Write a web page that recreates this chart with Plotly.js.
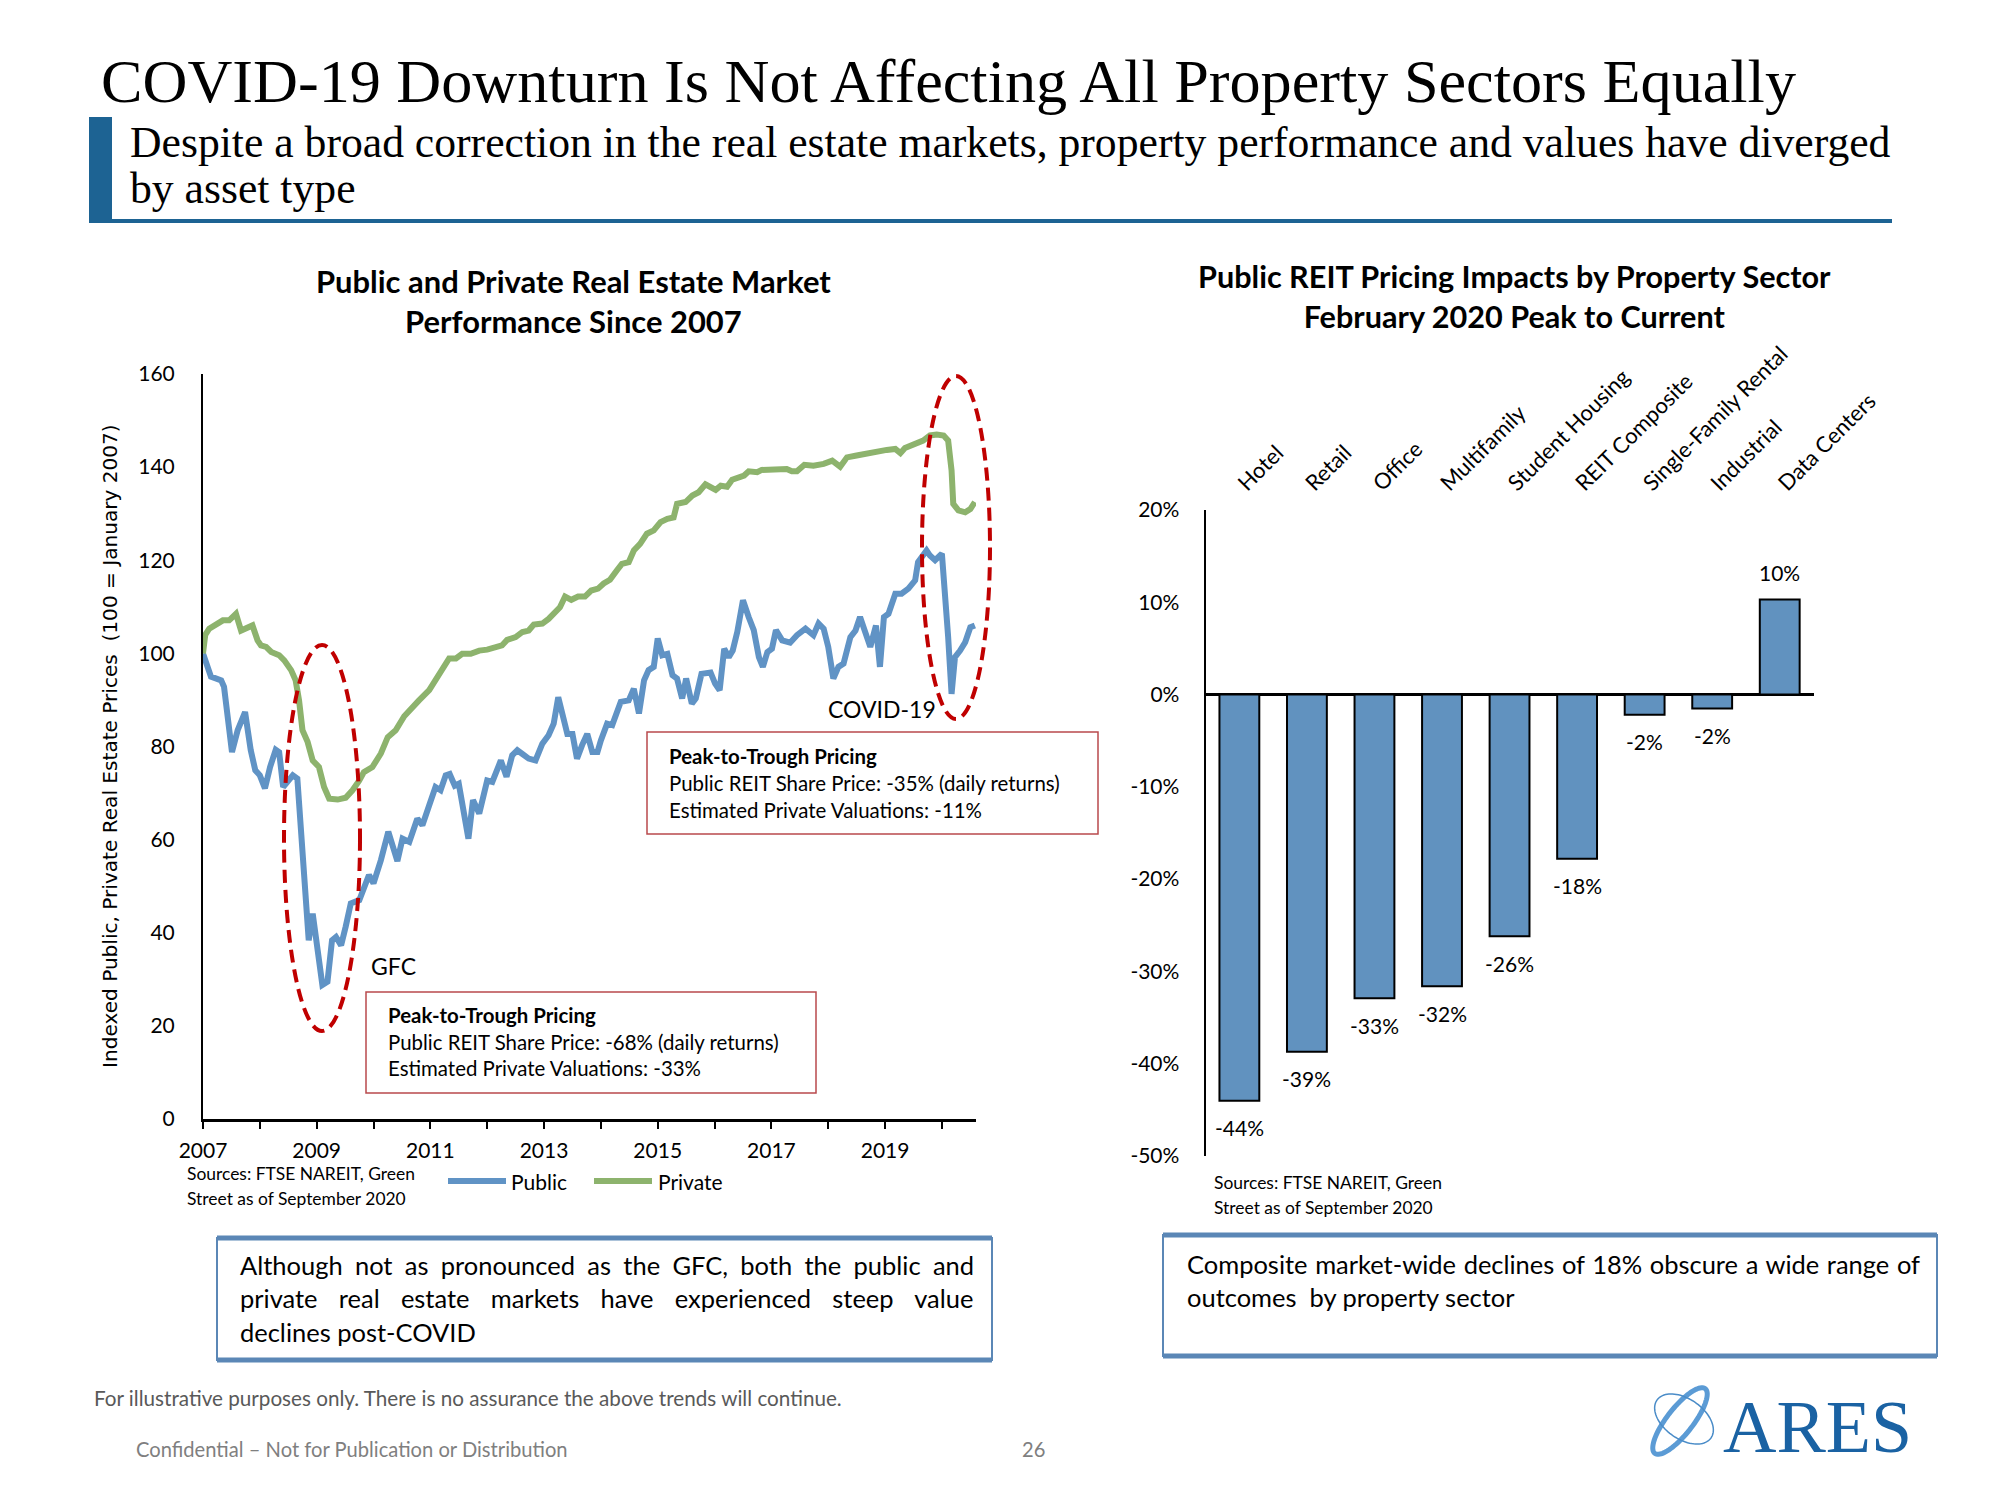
<!DOCTYPE html>
<html><head><meta charset="utf-8">
<script src="https://cdn.plot.ly/plotly-3.0.1.min.js"></script>
<style>html,body{margin:0;padding:0;background:#fff}#chart{width:2000px;height:1500px}</style>
</head><body><div id="chart"></div>
<script>
// ---------------- DATA ----------------
const pubX = [2007.0,2007.08,2007.14,2007.32,2007.37,2007.51,2007.61,2007.74,2007.84,2007.92,2008.0,2008.09,2008.18,2008.28,2008.34,2008.41,2008.49,2008.58,2008.66,2008.74,2008.81,2008.86,2008.93,2009.0,2009.1,2009.19,2009.27,2009.34,2009.43,2009.51,2009.6,2009.75,2009.92,2010.0,2010.13,2010.26,2010.42,2010.51,2010.63,2010.77,2010.86,2010.98,2011.09,2011.18,2011.27,2011.34,2011.43,2011.5,2011.59,2011.67,2011.75,2011.86,2012.0,2012.09,2012.24,2012.34,2012.44,2012.53,2012.62,2012.73,2012.85,2012.97,2013.08,2013.17,2013.25,2013.35,2013.41,2013.5,2013.58,2013.67,2013.76,2013.85,2013.94,2014.0,2014.11,2014.2,2014.35,2014.49,2014.58,2014.67,2014.76,2014.84,2014.93,2015.0,2015.08,2015.17,2015.26,2015.34,2015.43,2015.5,2015.6,2015.67,2015.77,2015.93,2016.01,2016.09,2016.17,2016.25,2016.32,2016.4,2016.5,2016.6,2016.69,2016.78,2016.85,2016.93,2017.01,2017.08,2017.19,2017.33,2017.45,2017.6,2017.74,2017.83,2017.92,2018.0,2018.09,2018.18,2018.27,2018.39,2018.48,2018.56,2018.65,2018.74,2018.84,2018.91,2018.98,2019.06,2019.18,2019.29,2019.41,2019.53,2019.58,2019.67,2019.73,2019.79,2019.88,2020.0,2020.05,2020.11,2020.17,2020.23,2020.32,2020.41,2020.5,2020.58];
const pubY = [100,97,95,94.2,92.8,78.8,83.5,87.4,79.2,74.9,73.8,71.0,75.6,79.3,78.8,71.3,72.4,73.8,73.1,59.9,47.0,38.4,44.1,38.4,28.8,29.5,38.4,39.1,37.3,41.3,46.3,47.0,52.4,50.6,55.6,61.7,55.4,60.2,59.5,64.5,63.1,67.4,71.3,70.6,73.8,74.1,71.6,72.0,65.6,60.2,68.5,65.6,72.7,72.4,77.0,73.5,78.1,79.2,78.4,77.4,77.0,80.6,82.4,84.9,90.6,84.9,82.7,82.7,77.4,80.3,82.7,78.8,78.8,81.3,84.9,84.6,89.6,89.9,92.4,87.1,94.2,96.4,97.1,103.2,99.6,99.9,95.3,94.6,90.3,94.6,89.2,90.3,95.6,95.9,93.5,92.1,101.0,99.2,100.6,104.6,111.4,107.8,105.0,99.2,97.1,100.3,101.0,105.0,102.8,102.3,103.9,105.3,103.9,106.4,105.3,101.4,94.6,97.1,97.8,103.5,104.9,107.8,104.6,101.4,106.0,97.1,107.8,108.5,112.8,112.8,113.9,115.7,119.6,121.4,122.1,121.0,120.0,121.4,114.2,103.5,91.3,99.2,100.6,102.4,105.6,106.0];
const privX = [2007.0,2007.04,2007.11,2007.23,2007.35,2007.46,2007.58,2007.67,2007.76,2007.87,2007.96,2008.02,2008.11,2008.2,2008.34,2008.43,2008.55,2008.63,2008.69,2008.75,2008.84,2008.93,2009.04,2009.13,2009.22,2009.37,2009.51,2009.63,2009.75,2009.83,2009.98,2010.13,2010.25,2010.39,2010.54,2010.63,2010.8,2010.98,2011.12,2011.24,2011.33,2011.45,2011.56,2011.71,2011.86,2012.0,2012.15,2012.26,2012.35,2012.5,2012.62,2012.73,2012.82,2012.97,2013.08,2013.2,2013.28,2013.37,2013.48,2013.6,2013.72,2013.83,2013.95,2014.05,2014.16,2014.28,2014.37,2014.49,2014.58,2014.69,2014.81,2014.93,2015.05,2015.17,2015.28,2015.34,2015.49,2015.61,2015.72,2015.84,2015.93,2016.02,2016.11,2016.22,2016.31,2016.43,2016.52,2016.6,2016.75,2016.83,2017.01,2017.18,2017.27,2017.36,2017.45,2017.58,2017.74,2017.92,2018.07,2018.21,2018.33,2018.5,2018.68,2018.85,2019.03,2019.18,2019.27,2019.35,2019.5,2019.67,2019.79,2019.91,2020.03,2020.11,2020.17,2020.2,2020.29,2020.41,2020.5,2020.58];
const privY = [100,104,105.3,106.4,107.1,107.1,108.5,104.9,105.3,106.0,102.8,101.7,101.4,100.3,99.6,98.5,96.4,94.2,89.9,83.5,81.0,77.0,75.6,71.3,68.8,68.6,69.0,70.6,72.7,74.5,75.6,78.5,82.0,83.5,86.5,87.8,89.9,92.1,94.9,97.2,98.9,98.9,99.9,99.9,100.6,100.8,101.4,101.7,102.9,103.5,104.6,104.9,106.2,106.4,107.4,108.9,109.9,112.2,111.5,112.2,112.2,113.5,113.9,115.0,115.8,117.8,119.2,119.6,122.1,123.5,125.7,126.4,128.2,128.9,129.2,132.1,132.5,133.9,134.6,136.3,135.8,135.1,136.0,135.8,137.3,137.8,138.2,139.1,138.9,139.4,139.4,139.4,139.6,139.1,139.1,140.5,140.3,140.7,141.4,140.1,142.1,142.5,143.0,143.2,143.7,143.9,143.0,144.1,145.0,145.7,146.8,147.0,146.8,145.7,139.3,132.1,130.7,130.3,131.0,132.5];
const yearTicks = [2007,2008,2009,2010,2011,2012,2013,2014,2015,2016,2017,2018,2019,2020];
const yearLabels = ['2007','','2009','','2011','','2013','','2015','','2017','','2019',''];
const indexTicks = [0,20,40,60,80,100,120,140,160];

const sectors = ['Hotel','Retail','Office','Multifamily','Student Housing','REIT Composite','Single-Family Rental','Industrial','Data Centers'];
const sectorChange = [-44.0,-38.7,-32.9,-31.6,-26.2,-17.8,-2.2,-1.5,10.3];
const sectorLabels = ['-44%','-39%','-33%','-32%','-26%','-18%','-2%','-2%','10%'];
const pctTicks = [-50,-40,-30,-20,-10,0,10,20];
const pctLabels = ['-50%','-40%','-30%','-20%','-10%','0%','10%','20%'];

// ---------------- HELPERS ----------------
const W = 2000, H = 1500;
const X = p => p / W, Y = p => 1 - p / H;
const SANS = 'Lato, "Open Sans", sans-serif';
const SERIF = '"Liberation Serif", "DejaVu Serif", serif';
const VERD = '"DejaVu Sans", Verdana, sans-serif';
const BLUE = '#6093c5', GREEN = '#8db36d';
const cv = document.createElement('canvas').getContext('2d');
function measure(text, size, fam, bold){ cv.font = (bold?'bold ':'') + size + 'px ' + fam; return cv.measureText(text).width; }
function fit(text, fam, target, bold){ return 100 * target / measure(text, 100, fam, bold); }
function justify(text, size, fam, target){
  const w = measure(text, size, fam, false);
  const n = (text.match(/ /g) || []).length;
  const ws = n ? (target - w) / n : 0;
  return '<span style="word-spacing:' + ws.toFixed(2) + 'px">' + text + '</span>';
}
function txt(text, px, py, size, opts){
  opts = opts || {};
  return Object.assign({text: text, xref:'paper', yref:'paper', x: X(px), y: Y(py), showarrow:false,
    xanchor: opts.xanchor || 'left', yanchor: 'middle',
    font: {family: opts.family || SANS, size: size, color: opts.color || '#000'}}, opts.extra || {});
}
function ellPath(cx, cy, a, b, rot){
  const r = rot * Math.PI / 180; let s = '';
  for (let i = 0; i <= 90; i++){
    const t = 2 * Math.PI * i / 90, ex = a * Math.cos(t), ey = b * Math.sin(t);
    const px = cx + ex * Math.cos(r) - ey * Math.sin(r), py = cy + ex * Math.sin(r) + ey * Math.cos(r);
    s += (i ? 'L' : 'M') + X(px).toFixed(5) + ',' + Y(py).toFixed(5);
  }
  return s + 'Z';
}

// ---------------- TEXT ----------------
const titleText = 'COVID-19 Downturn Is Not Affecting All Property Sectors Equally';
const sub1 = 'Despite a broad correction in the real estate markets, property performance and values have diverged';
const sub2 = 'by asset type';
const titleSize = fit(titleText, SERIF, 1702);
const subSize = fit(sub1, SERIF, 1761);
const lt1 = 'Public and Private Real Estate Market', lt2 = 'Performance Since 2007';
const rt1 = 'Public REIT Pricing Impacts by Property Sector', rt2 = 'February 2020 Peak to Current';
const ltSize = fit(lt1, SANS, 515, true);
const rtSize = fit(rt1, SANS, 635, true);
const yTitle = 'Indexed Public, Private Real Estate Prices  (100 = January 2007)';
const yTitleSize = fit(yTitle, VERD, 644);
const box1 = ['Although not as pronounced as the GFC, both the public and','private real estate markets have experienced steep value','declines post-COVID'];
const box2 = ['Composite market-wide declines of 18% obscure a wide range of','outcomes  by property sector'];
const boxSize = Math.min(fit(box1[0], SANS, 734), fit(box2[0], SANS, 733)) - 0.3;
const foot1 = 'For illustrative purposes only. There is no assurance the above trends will continue.';
const footSize = fit(foot1, SANS, 750);
const srcSize = fit('Sources: FTSE NAREIT, Green', SANS, 228);
const calloutSize = fit('Public REIT Share Price: -35% (daily returns)', SANS, 392);

const annotations = [
  txt(titleText, 99, 81, titleSize, {family: SERIF}),
  txt(sub1, 128, 142, subSize, {family: SERIF}),
  txt(sub2, 128, 188, subSize, {family: SERIF}),
  txt('<b>' + lt1 + '</b><br><b>' + lt2 + '</b>', 573, 301, ltSize, {xanchor:'center'}),
  txt('<b>' + rt1 + '</b><br><b>' + rt2 + '</b>', 1514, 296, rtSize, {xanchor:'center'}),
  txt(yTitle, 110, 746, yTitleSize, {family: VERD, xanchor:'center', extra:{textangle:-90}}),
  txt('GFC', 369, 966, 23),
  txt('COVID-19', 826, 709, 23),
  txt('<b>Peak-to-Trough Pricing</b>', 667, 756, calloutSize),
  txt('Public REIT Share Price: -35% (daily returns)', 667, 783, calloutSize),
  txt('Estimated Private Valuations: -11%', 667, 810, calloutSize),
  txt('<b>Peak-to-Trough Pricing</b>', 386, 1015, calloutSize),
  txt('Public REIT Share Price: -68% (daily returns)', 386, 1042, calloutSize),
  txt('Estimated Private Valuations: -33%', 386, 1068, calloutSize),
  txt('Sources: FTSE NAREIT, Green', 185, 1173, srcSize),
  txt('Street as of September 2020', 185, 1198, srcSize),
  txt('Sources: FTSE NAREIT, Green', 1212, 1182, srcSize),
  txt('Street as of September 2020', 1212, 1207, srcSize),
  txt('Public', 509, 1181, 21),
  txt('Private', 656, 1181, 21),
  txt(justify(box1[0], boxSize, SANS, 734), 238, 1265, boxSize),
  txt(justify(box1[1], boxSize, SANS, 734), 238, 1298, boxSize),
  txt(box1[2], 238, 1332, boxSize),
  txt(justify(box2[0], boxSize, SANS, 734), 1185, 1264, boxSize),
  txt(box2[1], 1185, 1297, boxSize),
  txt(foot1, 92, 1398, footSize, {color:'#595959'}),
  txt('Confidential – Not for Publication or Distribution', 134, 1449, footSize - 0.5, {color:'#7f7f7f'}),
  txt('26', 1033, 1449, footSize - 0.5, {color:'#7f7f7f', xanchor:'center'}),
  txt('ARES', 1721, 1427, 74, {family: SERIF, color:'#1a62a3'})
];
sectors.forEach((s, i) => {
  annotations.push({xref:'x2', yref:'y2', x: s, y: sectorChange[i], text: sectorLabels[i], showarrow:false,
    yshift: sectorChange[i] < 0 ? -27 : 27, font:{family:SANS, size:21, color:'#000'}});
});

// ---------------- SHAPES ----------------
const shapes = [
  {type:'rect', xref:'paper', yref:'paper', x0:X(89), x1:X(112), y0:Y(219), y1:Y(117), fillcolor:'#1d6393', line:{width:0}},
  {type:'line', xref:'paper', yref:'paper', x0:X(89), x1:X(1892), y0:Y(221), y1:Y(221), line:{color:'#1d6393', width:4}},
  {type:'circle', xref:'paper', yref:'paper', x0:X(284), x1:X(360), y0:Y(1031), y1:Y(645), line:{color:'#c00000', width:4, dash:'13px,7px'}, layer:'above'},
  {type:'circle', xref:'paper', yref:'paper', x0:X(922), x1:X(990), y0:Y(719), y1:Y(376), line:{color:'#c00000', width:4, dash:'13px,7px'}, layer:'above'},
  {type:'rect', xref:'paper', yref:'paper', x0:X(647), x1:X(1098), y0:Y(834), y1:Y(732), line:{color:'#b94a4c', width:1.5}},
  {type:'rect', xref:'paper', yref:'paper', x0:X(366), x1:X(816), y0:Y(1093), y1:Y(992), line:{color:'#b94a4c', width:1.5}},
  {type:'rect', xref:'paper', yref:'paper', x0:X(217), x1:X(992), y0:Y(1360), y1:Y(1238), line:{color:'#5b87b6', width:2}},
  {type:'line', xref:'paper', yref:'paper', x0:X(217), x1:X(992), y0:Y(1238), y1:Y(1238), line:{color:'#5b87b6', width:5}},
  {type:'line', xref:'paper', yref:'paper', x0:X(217), x1:X(992), y0:Y(1360), y1:Y(1360), line:{color:'#5b87b6', width:5}},
  {type:'rect', xref:'paper', yref:'paper', x0:X(1163), x1:X(1937), y0:Y(1356), y1:Y(1235), line:{color:'#5b87b6', width:2}},
  {type:'line', xref:'paper', yref:'paper', x0:X(1163), x1:X(1937), y0:Y(1235), y1:Y(1235), line:{color:'#5b87b6', width:5}},
  {type:'line', xref:'paper', yref:'paper', x0:X(1163), x1:X(1937), y0:Y(1356), y1:Y(1356), line:{color:'#5b87b6', width:5}},
  // legend samples
  {type:'line', xref:'paper', yref:'paper', x0:X(448), x1:X(506), y0:Y(1181), y1:Y(1181), line:{color:BLUE, width:6}},
  {type:'line', xref:'paper', yref:'paper', x0:X(594), x1:X(652), y0:Y(1181), y1:Y(1181), line:{color:GREEN, width:6}},
  // logo swirl
  {type:'path', xref:'paper', yref:'paper', path: ellPath(1680, 1421, 41, 13, -52), line:{color:'#5b9bd5', width:5}},
  {type:'path', xref:'paper', yref:'paper', path: ellPath(1684, 1419, 33, 20, 35), line:{color:'#4a8cc8', width:1.5}}
];

// ---------------- TRACES ----------------
const traces = [
  {type:'scatter', mode:'lines', x: pubX, y: pubY, name:'Public', xaxis:'x', yaxis:'y',
   line:{color:BLUE, width:6}},
  {type:'scatter', mode:'lines', x: privX, y: privY, name:'Private', xaxis:'x', yaxis:'y',
   line:{color:GREEN, width:6}},
  {type:'bar', x: sectors, y: sectorChange, name:'Change since Feb 2020 peak', xaxis:'x2', yaxis:'y2',
   marker:{color:'#6192bf', line:{color:'#000', width:2}}}
];

const layout = {
  width: W, height: H, margin:{l:0, r:0, t:0, b:0},
  paper_bgcolor:'#fff', plot_bgcolor:'#fff', showlegend:false,
  font:{family:SANS, color:'#000'},
  xaxis:{domain:[X(203), X(976)], range:[2007, 2020.6], tickmode:'array', tickvals: yearTicks, ticktext: yearLabels,
    ticks:'outside', ticklen:7, tickwidth:2, tickcolor:'#000', showline:true, linecolor:'#000', linewidth:2.5,
    showgrid:false, zeroline:false, tickfont:{family:SANS, size:21}, ticklabelstandoff:4, fixedrange:true},
  yaxis:{domain:[Y(1119), Y(374)], range:[0, 160], tickmode:'array', tickvals: indexTicks,
    ticks:'', showline:true, linecolor:'#000', linewidth:2, showgrid:false, zeroline:false,
    tickfont:{family:SANS, size:21}, ticklabelstandoff:22, fixedrange:true},
  xaxis2:{domain:[X(1205.6), X(1813.5)], anchor:'y2', side:'top', type:'category', tickangle:-45,
    ticks:'', showline:false, showgrid:false, zeroline:false, tickfont:{family:SANS, size:22}, ticklabelstandoff:9, fixedrange:true},
  yaxis2:{domain:[Y(1156), Y(510)], anchor:'x2', range:[-50, 20], tickmode:'array', tickvals: pctTicks, ticktext: pctLabels,
    ticks:'', showline:true, linecolor:'#000', linewidth:2, showgrid:false, zeroline:true, zerolinecolor:'#000', zerolinewidth:2.5,
    tickfont:{family:SANS, size:21}, ticklabelstandoff:20, fixedrange:true},
  bargap: 0.41,
  annotations: annotations,
  shapes: shapes
};

Plotly.newPlot('chart', traces, layout, {staticPlot:true, displayModeBar:false});
</script></body></html>
